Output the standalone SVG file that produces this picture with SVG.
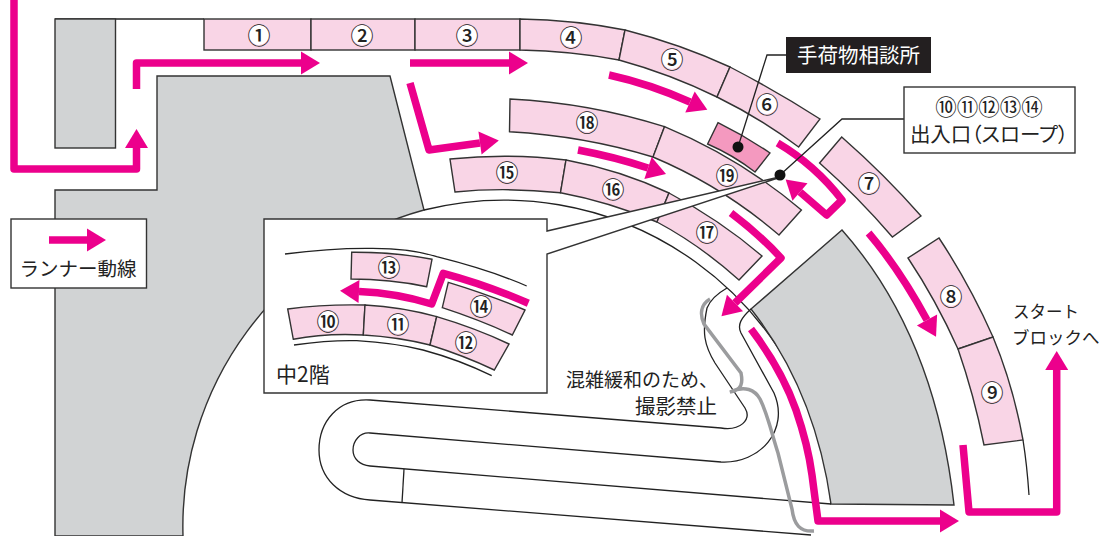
<svg xmlns="http://www.w3.org/2000/svg" width="1099" height="536" viewBox="0 0 1099 536">
<defs>
<style>
.wall{fill:#d1d3d4;stroke:#333;stroke-width:1.4}
.ln{fill:none;stroke:#222;stroke-width:1.3}
.seat{fill:#f9d5e6;stroke:#333;stroke-width:1.4}
.box{fill:#fff;stroke:#333;stroke-width:1.4}
.num{font:500 23px "Noto Sans CJK JP",sans-serif;text-anchor:middle;fill:#222}
.ring{fill:#fff}
.t{font-family:"Noto Sans CJK JP",sans-serif;fill:#222}
.fl{fill:none;stroke:#ec008c;stroke-width:7.5;stroke-linejoin:round;marker-end:url(#h)}
.call{fill:none;stroke:#222;stroke-width:1.3}
</style>
<marker id="h" markerUnits="userSpaceOnUse" markerWidth="20" markerHeight="23" refX="0" refY="11.5" orient="auto" overflow="visible"><polygon points="0,0 19,11.5 0,23" fill="#ec008c"/></marker>
</defs>
<rect width="1099" height="536" fill="#fff"/>
<g id="walls">
<path class="ln" d="M55,19H204"/>
<rect class="wall" x="55" y="19" width="60.500" height="129"/>
<path class="wall" d="M55,536V190H157V76H390L424,210A328,328 0 0 0 183,536Z"/>
<path class="ln" d="M424,210A328,328 0 0 1 831,504"/>
<path class="wall" d="M751,309L842,230Q935,335 954,505L831,504Q815,390 751,309Z"/>
</g>
<g id="lanes">
<path class="ln" d="M811,535L370,500C340,498 319,478 319,450C319,422 338,398 370,400L721,428C740,431 752,420 745,408L715,363C704,345 702,332 707,308C711,298 720,292 727,288"/>
<path class="ln" d="M831,504L370,466C360,465 353,459 353,450C353,441 360,432 370,433L721,462C760,464 790,430 774,393L741,333C737,325 741,318 751,309"/>
<path class="ln" d="M404,469L402,503"/>
<path class="ln" d="M1023,440Q1027,465 1029,495"/>
</g>
<g id="seat-1"><rect class="seat" x="204" y="19" width="107" height="31"/><circle class="ring" cx="259" cy="35" r="10"/><text class="num" x="259" y="43.500">①</text></g>
<g id="seat-2"><rect class="seat" x="311" y="19" width="104" height="31"/><circle class="ring" cx="362" cy="35" r="10"/><text class="num" x="362" y="43.500">②</text></g>
<g id="seat-3"><rect class="seat" x="415" y="19" width="105" height="31"/><circle class="ring" cx="467" cy="35" r="10"/><text class="num" x="467" y="43.500">③</text></g>
<g id="seat-4"><path class="seat" d="M520,19Q575,20 625,30L619,60Q572,51 520,50Z"/><circle class="ring" cx="571" cy="37" r="10"/><text class="num" x="571" y="45.500">④</text></g>
<g id="seat-5"><path class="seat" d="M625,30Q680,44 730,67L717,97Q670,74 619,60Z"/><circle class="ring" cx="672" cy="59" r="10"/><text class="num" x="672" y="67.500">⑤</text></g>
<g id="seat-6"><path class="seat" d="M730,67Q778,92 820,119L798.600,147Q760,118 717,97Z"/><circle class="ring" cx="767" cy="104" r="10"/><text class="num" x="767" y="112.500">⑥</text></g>
<g id="seat-7"><path class="seat" d="M841.700,137Q885,175 921,216L892.400,237Q858,197 819.600,163Z"/><circle class="ring" cx="869" cy="183" r="10"/><text class="num" x="869" y="191.500">⑦</text></g>
<g id="seat-8"><path class="seat" d="M939,238Q970,285 993,337L958,349Q936,300 908,258Z"/><circle class="ring" cx="951" cy="296" r="10"/><text class="num" x="951" y="304.500">⑧</text></g>
<g id="seat-9"><path class="seat" d="M993,337Q1013,385 1023,440L984,445Q974,395 958,349Z"/><circle class="ring" cx="992" cy="392" r="10"/><text class="num" x="992" y="400.500">⑨</text></g>
<g id="seat-15"><path class="seat" d="M450,159Q510,153 566,160L560.500,192.700Q505,187 455,192Z"/><circle class="ring" cx="507" cy="172" r="10"/><text class="num" x="507" y="180.500">⑮</text></g>
<g id="seat-16"><path class="seat" d="M566,160Q620,170 669,193L657,222Q610,202 560.500,192.700Z"/><circle class="ring" cx="613" cy="189" r="10"/><text class="num" x="613" y="197.500">⑯</text></g>
<g id="seat-17"><path class="seat" d="M669,193Q720,220 762,256L739,280Q700,245 657,222Z"/><circle class="ring" cx="707" cy="232" r="10"/><text class="num" x="707" y="240.500">⑰</text></g>
<g id="seat-18"><path class="seat" d="M510,99Q590,103 664.500,126.700L653,157Q585,136 509.500,131.700Z"/><circle class="ring" cx="587" cy="122" r="10"/><text class="num" x="587" y="130.500">⑱</text></g>
<g id="seat-19"><path class="seat" d="M664.500,126.700Q740,158 801.400,210L779,235Q722,186 653,157Z"/><circle class="ring" cx="727" cy="175" r="10"/><text class="num" x="727" y="183.500">⑲</text></g>
<g id="baggage-desk"><path d="M707.600,144L718,122.700Q745,136 770,153L755,172Q733,155 707.600,144Z" fill="#f499bf" stroke="#333" stroke-width="1.400"/></g>
<g id="inset">
<path class="box" d="M264,219H547V231L775,178L778,178L547,254V393H264Z"/>
<path class="ln" d="M285,254Q330,248 370,248.300Q410,248 436.700,256.700Q490,270 526.700,286"/>
<path class="ln" d="M294,345Q330,340 356.700,340.700Q395,343 423,350Q460,360 491.700,375.700"/>
<g id="seat-13"><path class="seat" d="M351.700,252.300Q395,252 432,259.300L426.700,286.700Q390,279 351,279Z"/><circle class="ring" cx="389" cy="267" r="10"/><text class="num" x="389" y="275.500">⑬</text></g>
<g id="seat-14"><path class="seat" d="M448.300,282.300Q490,295 525,310L512.300,335Q480,320 442.300,307.700Z"/><circle class="ring" cx="481" cy="306" r="10"/><text class="num" x="481" y="314.500">⑭</text></g>
<g id="seat-10"><path class="seat" d="M287.700,309Q325,304 365,305L363.300,335Q325,333 293.300,339.300Z"/><circle class="ring" cx="328" cy="321" r="10"/><text class="num" x="328" y="329.500">⑩</text></g>
<g id="seat-11"><path class="seat" d="M365,305Q402,307 436.700,316.700L430,345Q398,337 363.300,335Z"/><circle class="ring" cx="398" cy="324" r="10"/><text class="num" x="398" y="332.500">⑪</text></g>
<g id="seat-12"><path class="seat" d="M436.700,316.700Q475,328 509,344L494.300,370Q465,356 430,345Z"/><circle class="ring" cx="466" cy="342" r="10"/><text class="num" x="466" y="350.500">⑫</text></g>
<text class="t" x="276" y="382" font-size="21">中2階</text>
</g>
<g id="connectors">
<path class="fl" d="M14,0V169H136.500V148"/>
<path class="fl" d="M136.500,89V63H301"/>
<path class="fl" d="M410,63H509"/>
<path class="fl" d="M410,83L429,150L480,143"/>
<path class="fl" d="M609,75Q650,84 690,102"/>
<path class="fl" d="M578,150Q615,157 648,168"/>
<path class="fl" d="M777.600,143Q815,165 842,200L826.600,215L800,192"/>
<path class="fl" d="M731,213Q760,235 781,258L735,303"/>
<path class="fl" d="M868.600,233Q900,270 927,320"/>
<path class="fl" d="M751,329Q782,370 796,410Q808,445 812,475L818,521H940"/>
<path class="fl" d="M963,445L969,512H1056.700V370"/>
<path class="fl" d="M528.300,303.300Q487,285 443.300,273.300L431.700,304Q396,293 359,291.500"/>
<path d="M710,299C700,305 700,315 704,324L741,373C743,383 742,390 730,392C745,385 755,390 760,399C768,415 772,435 778,453L792,509C794,525 800,532 814,531" fill="none" stroke="#9b9c9e" stroke-width="3.500"/>
<path class="call" d="M786,55H767L738,147"/>
<circle cx="738" cy="147" r="5.500" fill="#111"/>
<path class="call" d="M904,119H842L780,175"/>
<circle cx="780" cy="175" r="5.500" fill="#111"/>
</g>
<g id="baggage-label"><rect x="786" y="37" width="145" height="36" fill="#231f20"/><text x="858.500" y="63" font-size="20.500" text-anchor="middle" class="t" style="fill:#fff">手荷物相談所</text></g>
<g id="slope-label"><rect class="box" x="904" y="87" width="171" height="66"/><text class="t" x="989" y="115" font-size="21.500" text-anchor="middle">⑩⑪⑫⑬⑭</text><text class="t" x="989" y="142" font-size="20.500" text-anchor="middle" style="font-feature-settings:'palt'">出入口（スロープ）</text></g>
<g id="legend"><rect class="box" x="11" y="219" width="135.500" height="69"/><path class="fl" d="M49,240H87"/><text class="t" x="78" y="276" font-size="19.500" text-anchor="middle">ランナー動線</text></g>
<g id="labels">
<text class="t" x="1013" y="318" font-size="16.500">スタート</text>
<text class="t" x="1012" y="344" font-size="17.500">ブロックへ</text>
<text class="t" x="566" y="387" font-size="19">混雑緩和のため、</text>
<text class="t" x="717" y="414" font-size="20.500" text-anchor="end">撮影禁止</text>
</g>
</svg>
